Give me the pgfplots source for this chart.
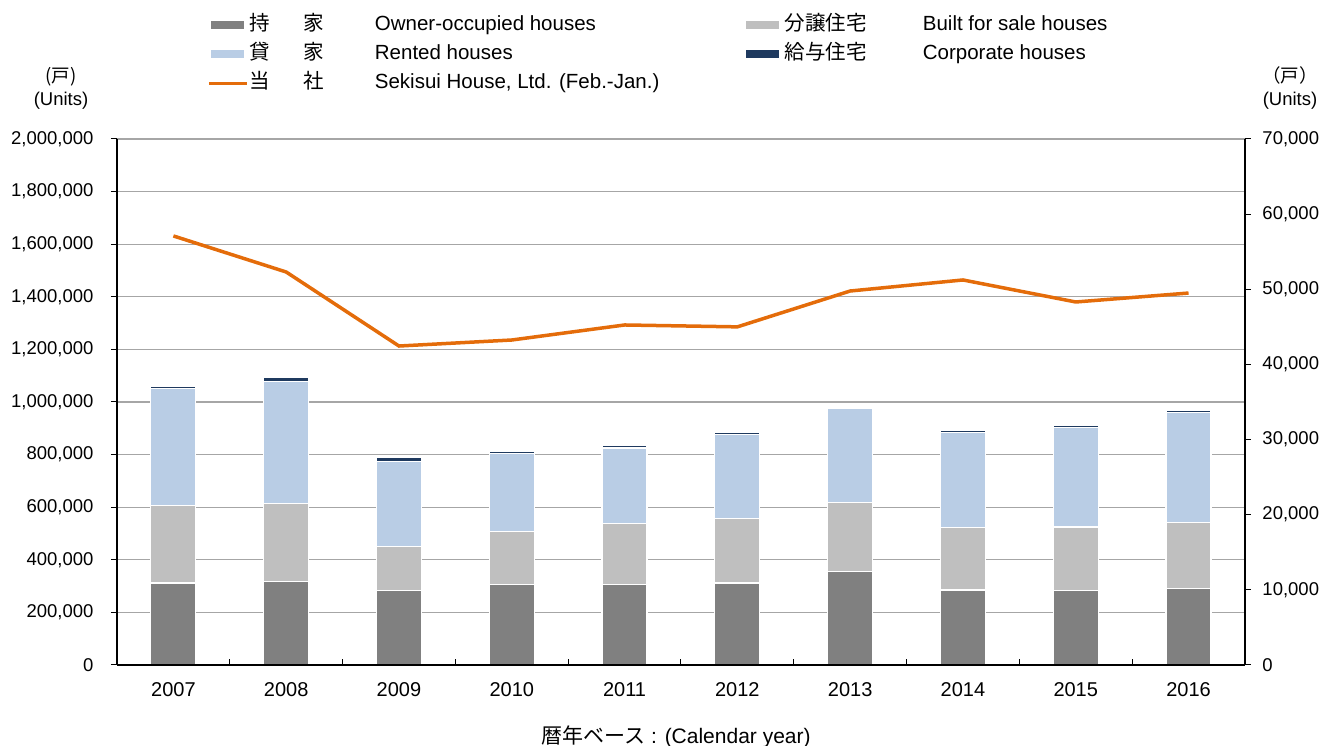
\documentclass[border=0pt]{standalone}
\usepackage{pgfplots}
\pgfplotsset{compat=1.18}
\usepackage{fontspec}
\setmainfont{Liberation Sans}
\newfontfamily\jp{Noto Sans CJK JP}
\definecolor{cOwner}{HTML}{808080}
\definecolor{cSale}{HTML}{BFBFBF}
\definecolor{cRent}{HTML}{B9CDE5}
\definecolor{cCorp}{HTML}{1F3A5F}
\definecolor{cLine}{HTML}{E46C0A}
\definecolor{cGrid}{HTML}{A6A6A6}
\begin{document}
\begin{tikzpicture}[font=\fontsize{19}{23}\selectfont]
\useasboundingbox (-117pt,-81pt) rectangle (1204pt,665pt);
% values in thousands of units
\begin{axis}[
  at={(0pt,0pt)}, anchor=south west,
  scale only axis, width=1128pt, height=526pt,
  xmin=-0.5, xmax=9.5, ymin=0, ymax=2000,
  ybar stacked, bar width=45pt,
  axis x line*=bottom, axis y line*=left,
  axis line style={black, line width=1.5pt, -},
  xtick={0,1,2,3,4,5,6,7,8,9},
  xticklabels={2007,2008,2009,2010,2011,2012,2013,2014,2015,2016},
  major x tick style={draw=none},
  minor xtick={0.5,1.5,2.5,3.5,4.5,5.5,6.5,7.5,8.5},
  minor x tick style={black, line width=1pt, yshift=6pt},
  minor tick length=6pt,
  ytick={0,200,400,600,800,1000,1200,1400,1600,1800,2000},
  yticklabels={0,{200,000},{400,000},{600,000},{800,000},{1,000,000},{1,200,000},{1,400,000},{1,600,000},{1,800,000},{2,000,000}},
  major y tick style={black, line width=1pt},
  tick align=outside, major tick length=6pt,
  ymajorgrids, grid style={cGrid, line width=1.2pt},
  xticklabel style={yshift=-8pt, font=\fontsize{20}{24}\selectfont},
  yticklabel style={xshift=-14pt, font=\fontsize{18.5}{22}\selectfont},
  legend columns=2,
  legend cell align=left,
  legend style={draw=none, fill=none, font=\fontsize{20.5}{24}\selectfont,
    at={(axis description cs:0.0771,1.2394)}, anchor=north west,
    column sep=0pt, row sep=9pt,
    nodes={inner sep=0pt, text height=15pt, text depth=5pt}},
]
\addplot[fill=cOwner, draw=white, line width=1.2pt,
  legend image code/.code={\fill[cOwner, draw=none] (0pt,-4pt) rectangle (33pt,4pt);\path[draw=none, fill=none] (0pt,-4pt) rectangle (39pt,4pt);}]
  coordinates {(0,311.803) (1,316.0) (2,284.631) (3,305.221) (4,304.822) (5,311.589) (6,354.772) (7,285.270) (8,283.366) (9,292.287)};
\addlegendentry{\makebox[496pt][l]{\makebox[125pt][l]{\jp 持\hspace{33pt}家}Owner-occupied houses}}
\addplot[fill=cSale, draw=white, line width=1.2pt,
  legend image code/.code={\fill[cSale, draw=none] (0pt,-4pt) rectangle (33pt,4pt);\path[draw=none, fill=none] (0pt,-4pt) rectangle (39pt,4pt);}]
  coordinates {(0,296.0) (1,299.0) (2,167.0) (3,202.224) (4,234.571) (5,246.582) (6,263.931) (7,236.042) (8,241.201) (9,250.532)};
\addlegendentry{\makebox[138pt][l]{\jp 分譲住宅}Built for sale houses}
\addplot[fill=cRent, draw=white, line width=1.2pt,
  legend image code/.code={\fill[cRent, draw=none] (0pt,-4pt) rectangle (33pt,4pt);\path[draw=none, fill=none] (0pt,-4pt) rectangle (39pt,4pt);}]
  coordinates {(0,442.0) (1,463.0) (2,321.470) (3,298.014) (4,285.832) (5,318.521) (6,356.263) (7,362.191) (8,378.718) (9,418.543)};
\addlegendentry{\makebox[496pt][l]{\makebox[125pt][l]{\jp 貸\hspace{33pt}家}Rented houses}}
\addplot[fill=cCorp, draw=white, line width=1.2pt,
  legend image code/.code={\fill[cCorp, draw=none] (0pt,-4pt) rectangle (33pt,4pt);\path[draw=none, fill=none] (0pt,-4pt) rectangle (39pt,4pt);}]
  coordinates {(0,10.938) (1,14.0) (2,15.309) (3,7.667) (4,8.892) (5,6.105) (6,5.059) (7,8.758) (8,6.014) (9,5.875)};
\addlegendentry{\makebox[138pt][l]{\jp 給与住宅}Corporate houses}
\addlegendimage{legend image code/.code={\draw[cLine, line width=3.5pt, fill=none] (-2pt,0pt) -- (36pt,0pt);\path[draw=none, fill=none] (0pt,-4pt) rectangle (39pt,4pt);}}
\addlegendentry{\makebox[496pt][l]{\makebox[125pt][l]{\jp 当\hspace{33pt}社}Sekisui House, Ltd. (Feb.-Jan.)}}
\end{axis}
\begin{axis}[
  at={(0pt,0pt)}, anchor=south west,
  scale only axis, width=1128pt, height=526pt,
  xmin=-0.5, xmax=9.5, ymin=0, ymax=70,
  axis x line*=bottom, xtick=\empty, axis y line*=right,
  axis line style={black, line width=1.5pt, -},
  ytick={0,10,20,30,40,50,60,70},
  yticklabels={0,{10,000},{20,000},{30,000},{40,000},{50,000},{60,000},{70,000}},
  ytick style={black, line width=1pt},
  tick align=outside, major tick length=6pt,
  yticklabel style={xshift=8pt, font=\fontsize{18.5}{22}\selectfont},
]
\addplot[cLine, line width=3.5pt, mark=none] coordinates {
  (0,57.10) (1,52.30) (2,42.45) (3,43.25) (4,45.25) (5,45.00) (6,49.77) (7,51.24) (8,48.31) (9,49.50)};
\end{axis}
\node[align=center, font=\fontsize{18.5}{23}\selectfont] at (-56pt,577pt) {{\jp (戸)}\\(Units)};
\node[align=center, font=\fontsize{18.5}{23}\selectfont] at (1173pt,577pt) {{\jp （戸）}\\(Units)};
\node[font=\fontsize{21}{25}\selectfont] at (559pt,-72pt) {{\jp 暦年ベース} : (Calendar year)};
\end{tikzpicture}
\end{document}
